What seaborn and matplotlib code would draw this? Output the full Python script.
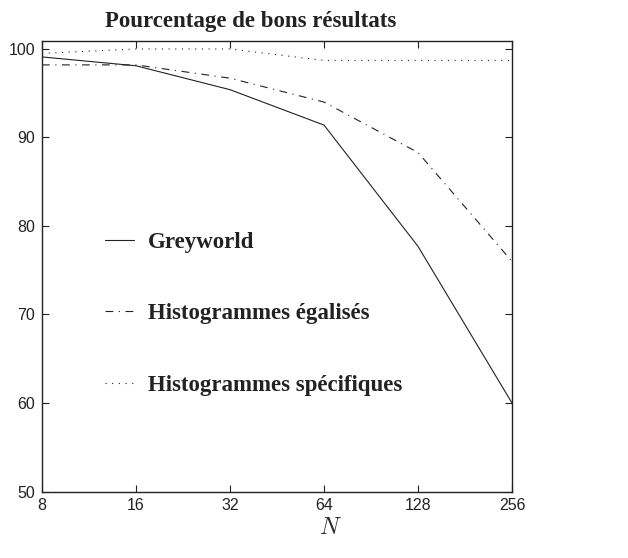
import matplotlib
matplotlib.use("Agg")
import matplotlib.pyplot as plt
import seaborn as sns
import pandas as pd

# Sizes of the block (N) and the rate of correct results for each method
n_values = [8, 16, 32, 64, 128, 256]
greyworld = [99.1, 98.1, 95.4, 91.4, 77.7, 60.0]
hist_egalises = [98.2, 98.2, 96.7, 94.0, 88.3, 76.0]
hist_specifiques = [99.5, 100.0, 100.0, 98.7, 98.7, 98.7]

methods = ["Greyworld", "Histogrammes égalisés", "Histogrammes spécifiques"]
x_ticks = [8, 16, 32, 64, 128, 256]
y_ticks = [50, 60, 70, 80, 90, 100]

df = pd.DataFrame({
    "N": n_values * 3,
    "score": greyworld + hist_egalises + hist_specifiques,
    "method": [methods[0]] * 6 + [methods[1]] * 6 + [methods[2]] * 6,
})

sns.set_theme(style="ticks")
plt.rcParams["mathtext.fontset"] = "cm"

fig = plt.figure(figsize=(6.28, 5.58), dpi=100)
ax = fig.add_axes([42 / 628, 1 - 491.5 / 558, 470 / 628, 450.5 / 558])

styles = {
    methods[0]: dict(linestyle="-"),
    methods[1]: dict(linestyle=(0, (7, 5, 1, 5))),
    methods[2]: dict(linestyle=(0, (1, 5))),
}
for m in methods:
    sns.lineplot(data=df[df["method"] == m], x="N", y="score", ax=ax,
                 color="#222222", linewidth=0.8, label=m, **styles[m])

ax.set_xscale("log", base=2)
ax.set_xlim(8, 256)
ax.set_ylim(50, 100.9)
ax.set_xticks(x_ticks)
ax.set_xticklabels([str(v) for v in x_ticks])
ax.minorticks_off()
ax.set_yticks(y_ticks)
ax.tick_params(direction="in", length=5, width=0.8, top=True, right=True,
               labelsize=11.5, colors="#222222")
ax.tick_params(axis="y", pad=5)
ax.tick_params(axis="x", pad=5)
for lab in ax.get_xticklabels() + ax.get_yticklabels():
    lab.set_family("Liberation Sans")
for sp in ax.spines.values():
    sp.set_linewidth(1.0)
    sp.set_color("#222222")

ax.set_xlabel("$N$", fontsize=17)
ax.xaxis.set_label_coords(0.613, -0.052)
ax.set_ylabel("")

leg = ax.legend(loc="upper left", bbox_to_anchor=(0.091, 0.622), frameon=False,
                handlelength=1.25, handletextpad=0.6, labelspacing=2.2,
                prop={"family": "Liberation Serif", "size": 16.5,
                      "weight": "bold"})
for t in leg.get_texts():
    t.set_color("#222222")

fig.text(105 / 628, 1 - 21 / 558, "Pourcentage de bons résultats",
         ha="left", va="center", fontsize=16.5, family="Liberation Serif",
         weight="bold", color="#222222")

fig.savefig("out.png", dpi=100, facecolor="white")
